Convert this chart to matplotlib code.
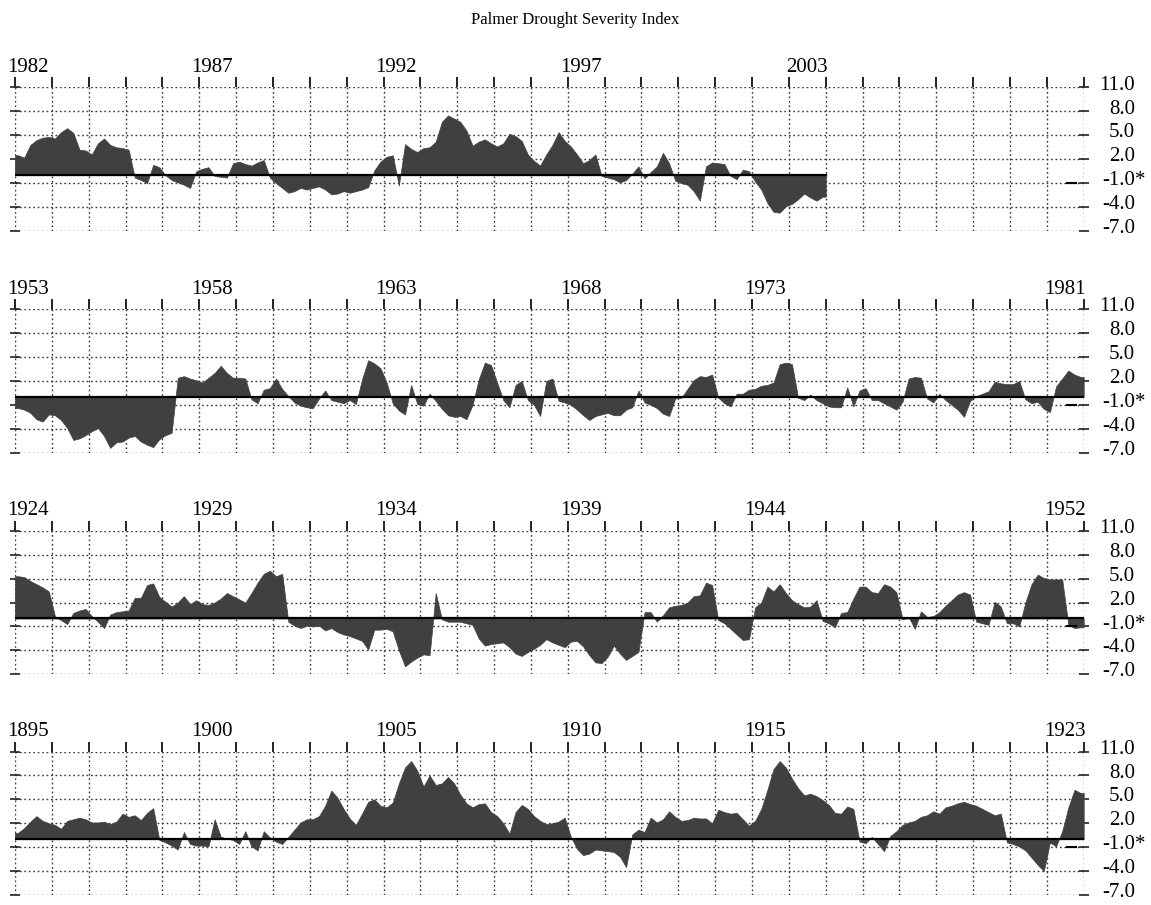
import numpy as np
import matplotlib.pyplot as plt

plt.rcParams['font.family'] = ['Liberation Serif', 'DejaVu Serif']

# PDSI, six values per year (two-month steps)
pdsi_1982_2003 = [
    2.5, 2.2, 3.8, 4.4, 4.7, 4.8,   # 1982
    4.6, 5.4, 5.9, 5.3, 3.2, 3.1,
    2.6, 4.0, 4.6, 3.8, 3.5, 3.4,
    3.2, -0.3, -0.6, -1.0, 1.3, 1.0,
    0.0, -0.6, -0.9, -1.2, -1.6, 0.5,
    0.8, 1.0, -0.1, -0.2, -0.3, 1.5,
    1.7, 1.4, 1.2, 1.6, 1.9, -0.3,
    -1.0, -1.6, -2.2, -2.0, -1.6, -1.8,
    -1.6, -1.4, -1.8, -2.4, -2.3, -2.0,
    -2.2, -2.0, -1.8, -1.5, 0.6, 1.7,
    2.3, 2.5, -1.3, 3.9, 3.3, 2.9,   # 1992
    3.4, 3.5, 4.2, 6.7, 7.5, 7.1,
    6.7, 5.6, 3.7, 4.2, 4.5, 4.0,
    3.6, 4.0, 5.2, 4.9, 4.3, 2.6,
    1.8, 1.2, 2.6, 3.8, 5.4, 4.3,
    3.6, 2.6, 1.5, 1.9, 2.6, -0.1,
    -0.3, -0.5, -0.9, -0.6, 0.2, 1.1,
    -0.4, 0.4, 1.1, 2.8, 1.5, -0.7,
    -1.0, -1.2, -2.0, -3.2, 1.1, 1.6,
    1.5, 1.4, -0.1, -0.5, 0.7, 0.5,
    -0.8, -1.8, -3.5, -4.6, -4.7, -3.9,
    -3.6, -3.0, -2.3, -2.8, -3.2, -2.7,  # 2003
]

pdsi_1953_1981 = [
    -1.4, -1.6, -2.0, -2.8, -3.1, -2.2,  # 1953
    -2.3, -2.9, -3.9, -5.4, -5.2, -4.8,
    -4.3, -3.9, -4.9, -6.4, -5.7, -5.6,
    -5.1, -4.9, -5.6, -6.0, -6.3, -5.3,
    -4.8, -4.5, 2.4, 2.6, 2.3, 2.1,
    1.8, 2.4, 3.0, 3.9, 3.0, 2.4,
    2.4, 2.3, -0.3, -0.8, 0.9, 1.1,
    2.3, 1.0, 0.1, -0.7, -1.1, -1.3,
    -1.4, -0.2, 0.8, -0.4, -0.6, -0.8,
    -0.4, -0.9, 2.2, 4.6, 4.2, 3.6,
    1.8, -0.8, -1.7, -2.2, 1.5, -0.9,    # 1963
    -1.1, 0.4, -0.5, -1.5, -2.3, -2.5,
    -2.4, -2.8, -1.0, 2.2, 4.3, 4.0,
    1.8, -0.4, -1.3, 1.5, 2.0, -0.4,
    -1.0, -2.4, 2.0, 2.3, -0.5, -0.7,
    -1.0, -1.6, -2.3, -2.9, -2.4, -2.2,
    -2.0, -2.3, -2.3, -1.6, -1.3, 0.8,
    -0.7, -1.0, -1.4, -2.1, -2.4, -0.2,
    -0.1, 1.0, 2.1, 2.6, 2.5, 2.8,
    -0.1, -0.8, -1.2, 0.4, 0.4, 0.9,
    1.0, 1.4, 1.5, 1.8, 4.1, 4.3,        # 1973
    4.1, -0.1, -0.4, 0.3, -0.4, -0.8,
    -1.2, -1.3, -1.3, 1.2, -1.2, 0.8,
    1.1, -0.4, -0.4, -0.8, -1.2, -1.6,
    -0.6, 2.3, 2.5, 2.4, -0.2, -0.7,
    0.4, -0.4, -1.0, -1.6, -2.5, -0.5,
    0.1, 0.4, 0.7, 1.9, 1.7, 1.6,
    1.6, 2.0, -0.3, -0.8, -0.6, -1.5,
    -1.9, 1.3, 2.3, 3.3, 2.8, 2.5,       # 1981
]

pdsi_1924_1952 = [
    5.3, 5.2, 4.7, 4.3, 3.9, 3.4,        # 1924
    0.3, -0.2, -0.7, 0.7, 1.0, 1.2,
    0.3, -0.4, -1.2, 0.5, 0.8, 0.9,
    1.0, 2.6, 2.6, 4.2, 4.4, 2.7,
    2.1, 1.5, 2.0, 2.8, 1.8, 2.3,
    1.8, 1.7, 2.0, 2.5, 3.2, 2.8,
    2.4, 2.0, 3.2, 4.5, 5.6, 6.0,
    5.3, 5.6, -0.4, -0.9, -1.2, -0.9,
    -1.0, -0.9, -1.5, -1.2, -1.7, -2.0,
    -2.2, -2.5, -2.8, -3.9, -1.4, -1.4,
    -1.3, -1.6, -4.0, -6.0, -5.4, -4.9,  # 1934
    -4.5, -4.6, 3.2, -0.1, -0.4, -0.4,
    -0.4, -0.6, -0.8, -2.5, -3.4, -3.2,
    -3.1, -3.0, -3.6, -4.4, -4.7, -4.2,
    -3.8, -3.3, -2.6, -3.0, -3.3, -3.6,
    -2.9, -2.8, -3.5, -4.6, -5.5, -5.6,
    -4.8, -3.4, -4.4, -5.2, -4.7, -4.2,
    0.8, 0.8, -0.4, 0.4, 1.4, 1.6,
    1.7, 2.0, 2.8, 2.9, 4.5, 4.2,
    -0.2, -0.6, -1.3, -2.0, -2.7, -2.6,
    1.4, 2.0, 4.0, 3.4, 4.3, 3.2,        # 1944
    2.3, 1.8, 1.4, 1.5, 2.3, -0.3,
    -0.6, -1.1, 0.7, 0.8, 2.5, 4.0,
    4.0, 3.3, 3.2, 4.3, 4.0, 3.3,
    -0.1, 0.2, -1.3, 0.9, 0.2, 0.3,
    0.8, 1.6, 2.3, 3.0, 3.3, 3.0,
    -0.4, -0.6, -0.8, 2.1, 1.5, -0.6,
    -0.6, -1.0, 2.0, 4.3, 5.5, 5.1,
    4.9, 4.9, 4.9, -0.8, -1.2, -1.1,     # 1952
]

pdsi_1895_1923 = [
    0.8, 1.4, 2.2, 2.9, 2.3, 2.0,        # 1895
    1.8, 1.3, 2.3, 2.5, 2.7, 2.5,
    2.1, 2.1, 2.2, 1.9, 2.2, 3.2,
    2.8, 3.0, 2.4, 3.3, 3.9, -0.1,
    -0.4, -0.8, -1.3, 0.9, -0.6, -0.8,
    -0.8, -0.9, 2.5, 0.3, 0.1, -0.1,
    -0.6, 1.0, -0.9, -1.4, 1.0, 0.2,
    -0.3, -0.6, 0.3, 1.2, 2.1, 2.5,
    2.5, 2.9, 4.2, 6.1, 5.2, 3.8,
    2.6, 1.8, 3.2, 4.7, 5.0, 4.2,
    4.0, 4.6, 7.0, 9.0, 9.8, 8.6,        # 1905
    6.6, 8.0, 6.8, 7.0, 7.8, 7.0,
    5.6, 4.5, 4.0, 4.4, 4.5, 3.4,
    2.9, 2.0, 0.7, 3.4, 4.3, 3.8,
    2.9, 2.3, 1.9, 2.0, 2.2, 2.7,
    0.3, -1.2, -2.0, -1.8, -1.3, -1.4,
    -1.5, -1.6, -2.2, -3.5, 0.6, 1.2,
    0.9, 2.7, 2.1, 2.5, 3.5, 2.8,
    2.3, 2.4, 2.7, 2.6, 2.6, 2.0,
    3.7, 3.4, 3.2, 3.3, 2.5, 1.7,
    2.3, 3.8, 6.2, 8.8, 9.8, 9.0,        # 1915
    7.6, 6.4, 5.5, 5.7, 5.4, 4.9,
    4.3, 3.3, 3.2, 4.1, 3.8, -0.3,
    -0.5, 0.3, -0.6, -1.5, 0.4, 1.0,
    1.8, 2.1, 2.3, 2.8, 3.0, 3.5,
    3.2, 4.0, 4.2, 4.5, 4.7, 4.4,
    4.2, 3.8, 3.4, 3.0, 3.2, -0.4,
    -0.6, -0.9, -1.4, -2.3, -3.2, -4.0,
    -0.4, -0.9, 1.0, 4.0, 6.2, 5.8,      # 1923
]

panel_starts = [1982, 1953, 1924, 1895]
panel_series = [pdsi_1982_2003, pdsi_1953_1981, pdsi_1924_1952, pdsi_1895_1923]
year_labels = [[1982, 1987, 1992, 1997],
               [1953, 1958, 1963, 1968, 1973],
               [1924, 1929, 1934, 1939, 1944],
               [1895, 1900, 1905, 1910, 1915]]
y_ticks = [11.0, 8.0, 5.0, 2.0, -1.0, -4.0, -7.0]
y_labels = ['11.0', '8.0', '5.0', '2.0', '-1.0', '-4.0', '-7.0']
star_tick = -1.0
years_per_panel = 29
steps_per_year = 6

W, H = 1151, 905
fig = plt.figure(figsize=(W / 100, H / 100), dpi=100)
fig.text(0.5, 1 - 20 / H, "Palmer Drought Severity Index", ha='center', va='center', fontsize=12)

ax_left, ax_w, ax_h = 15, 1068.7, 143.5
ax_bottoms = [231, 452.7, 674.3, 895]
fill_col = '#404040'
label_y = 12.3   # data units above the top gridline

for start, series, labels, bot in zip(panel_starts, panel_series, year_labels, ax_bottoms):
    ax = fig.add_axes([ax_left / W, 1 - bot / H, ax_w / W, ax_h / H])
    v = np.array(series)
    n = len(v)
    t = start + (np.arange(n) + 0.5) / steps_per_year
    t_full = np.concatenate([[start], t, [start + n / steps_per_year]])
    v_full = np.concatenate([[v[0]], v, [v[-1]]])

    ax.set_xlim(start, start + years_per_panel)
    ax.set_ylim(-7, 11)
    ax.set_xticks(range(start, start + years_per_panel + 1))
    ax.set_yticks(y_ticks)
    ax.set_axisbelow(True)
    ax.grid(True, linestyle=(0, (1.2, 2.0)), color='#333333', lw=1.0)
    for s in ax.spines.values():
        s.set_visible(False)
    ax.tick_params(axis='x', top=True, bottom=False, labeltop=False, labelbottom=False,
                   direction='out', length=7, width=1.4, color='#222222')
    ax.tick_params(axis='y', left=True, right=True, labelleft=False, labelright=False,
                   direction='inout', length=7, width=1.2, color='#222222')

    ax.fill_between(t_full, v_full, 0, color=fill_col, lw=0.5, edgecolor=fill_col, zorder=3)
    ax.plot([t_full[0], t_full[-1]], [0, 0], color='k', lw=1.6, zorder=4)
    ax.plot([start + 28.55, start + 28.8], [star_tick, star_tick], color='k', lw=1.5, zorder=4)

    # year labels
    for yr in labels:
        ax.text(yr + 0.35, label_y, str(yr), ha='center', va='bottom', fontsize=15,
                clip_on=False)
    last_year = start + int(np.ceil(n / steps_per_year)) - 1
    ax.text(last_year + 0.5, label_y, str(last_year), ha='center', va='bottom', fontsize=15,
            clip_on=False)

    # right-hand value labels
    tr = ax.get_yaxis_transform()
    xr = (1135 - ax_left) / ax_w
    for yv, lab in zip(y_ticks, y_labels):
        ax.text(xr, yv + 0.3, lab, ha='right', va='center', fontsize=15, transform=tr)
        if yv == star_tick:
            ax.text(xr, yv + 0.3, '*', ha='left', va='center', fontsize=15, transform=tr)

fig.savefig('out.png', dpi=100)
